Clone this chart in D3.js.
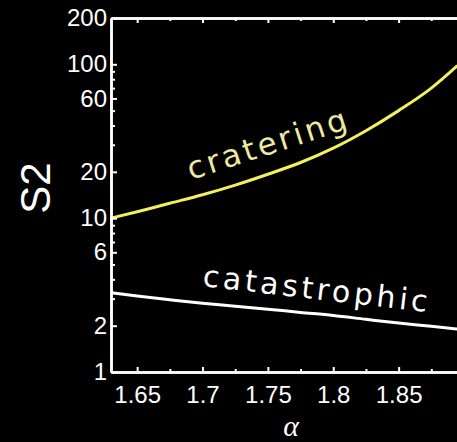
<!DOCTYPE html>
<html>
<head>
<meta charset="utf-8">
<script src="https://cdn.jsdelivr.net/npm/d3@7"></script>
<style>
  html, body { margin: 0; padding: 0; background: #000; }
  svg { display: block; }
</style>
</head>
<body>
<div id="container"></div>
<script>
/* DATA */
const alphaVals = [1.63, 1.65, 1.675, 1.70, 1.725, 1.75, 1.775, 1.80, 1.825, 1.85, 1.875, 1.895];
const crateringVals = [10.0, 11.0, 12.5, 14.2, 16.4, 19.3, 23.0, 28.5, 37, 50, 70, 98];
const catastrophicVals = [3.28, 3.12, 2.95, 2.80, 2.68, 2.56, 2.44, 2.33, 2.2, 2.08, 1.98, 1.90];
const xTickLabels = [1.65, 1.7, 1.75, 1.8, 1.85];
const xMinorTicks = [1.675, 1.725, 1.775, 1.825, 1.875];
const yTickLabels = [1, 2, 6, 10, 20, 60, 100, 200];
const yMinorTicks = [3, 4, 5, 7, 8, 9, 30, 40, 50, 70, 80, 90];

/* CONSTANTS */
const width = 457, height = 442;
const margin = { top: 18, bottom: 70, left: 111, right: -7 };

const svg = d3.select("#container")
  .append("svg")
  .attr("width", width)
  .attr("height", height)
  .style("background-color", "black");

/* SCALES */
const xScale = d3.scaleLinear()
  .domain([1.63, 1.9])
  .range([margin.left, width - margin.right]);

const yScale = d3.scaleLog()
  .domain([1, 200])
  .range([height - margin.bottom, margin.top]);

const font = "'Liberation Sans', Arial, Helvetica, sans-serif";
const labelFont = "'DejaVu Sans', Verdana, sans-serif";

// curves
const line = d3.line()
  .x((d, i) => xScale(alphaVals[i]))
  .y(d => yScale(d))
  .curve(d3.curveMonotoneX);

svg.append("path")
  .attr("d", line(crateringVals))
  .attr("fill", "none")
  .attr("stroke", "#f3ef5e")
  .attr("stroke-width", 3);

svg.append("path")
  .attr("d", line(catastrophicVals))
  .attr("fill", "none")
  .attr("stroke", "white")
  .attr("stroke-width", 3);

/* AXES */
// bottom axis, ticks point inward
const xAxis = d3.axisBottom(xScale)
  .tickValues(xTickLabels)
  .tickFormat(d => d)
  .tickSizeInner(-5)
  .tickSizeOuter(0)
  .tickPadding(14);
svg.append("g")
  .attr("transform", `translate(0,${yScale(1)})`)
  .call(xAxis);

const xMinor = d3.axisBottom(xScale).tickValues(xMinorTicks).tickFormat("").tickSizeInner(-3).tickSizeOuter(0);
svg.append("g").attr("transform", `translate(0,${yScale(1)})`).call(xMinor);

// top border with ticks
svg.append("g").attr("transform", `translate(0,${yScale(200)})`)
  .call(d3.axisTop(xScale).tickValues(xTickLabels).tickFormat("").tickSizeInner(-5).tickSizeOuter(0));
svg.append("g").attr("transform", `translate(0,${yScale(200)})`)
  .call(d3.axisTop(xScale).tickValues(xMinorTicks).tickFormat("").tickSizeInner(-3).tickSizeOuter(0));

// left axis
const yAxis = d3.axisLeft(yScale)
  .tickValues(yTickLabels)
  .tickFormat(d => d)
  .tickSizeInner(-6)
  .tickSizeOuter(0)
  .tickPadding(4);
svg.append("g")
  .attr("transform", `translate(${margin.left},0)`)
  .call(yAxis);

svg.append("g")
  .attr("transform", `translate(${margin.left},0)`)
  .call(d3.axisLeft(yScale).tickValues(yMinorTicks).tickFormat("").tickSizeInner(-4).tickSizeOuter(0));

svg.selectAll(".domain").attr("stroke", "white").attr("stroke-width", 2.5);
svg.selectAll(".tick line").attr("stroke", "white").attr("stroke-width", 2);
svg.selectAll(".tick text")
  .attr("fill", "white")
  .style("font-family", font)
  .style("font-size", "24px");

/* AXIS TITLES */
svg.append("text")
  .attr("transform", "translate(50,188) rotate(-90)")
  .attr("text-anchor", "middle")
  .attr("fill", "white")
  .style("font-family", font)
  .style("font-size", "42px")
  .text("S2");

svg.append("text")
  .attr("x", 291)
  .attr("y", 436)
  .attr("text-anchor", "middle")
  .attr("fill", "white")
  .style("font-family", "'Liberation Serif', 'DejaVu Serif', serif")
  .style("font-style", "italic")
  .style("font-size", "30px")
  .text("α");

/* CURVE LABELS */
svg.append("text")
  .attr("transform", "translate(191,180) rotate(-18)")
  .attr("fill", "#efe9a0")
  .attr("textLength", 166)
  .attr("lengthAdjust", "spacing")
  .style("font-family", labelFont)
  .style("font-size", "31px")
  .text("cratering");

svg.append("text")
  .attr("transform", "translate(202,286) rotate(6.6)")
  .attr("fill", "white")
  .attr("textLength", 226)
  .attr("lengthAdjust", "spacing")
  .style("font-family", labelFont)
  .style("font-size", "30px")
  .text("catastrophic");
</script>
</body>
</html>
